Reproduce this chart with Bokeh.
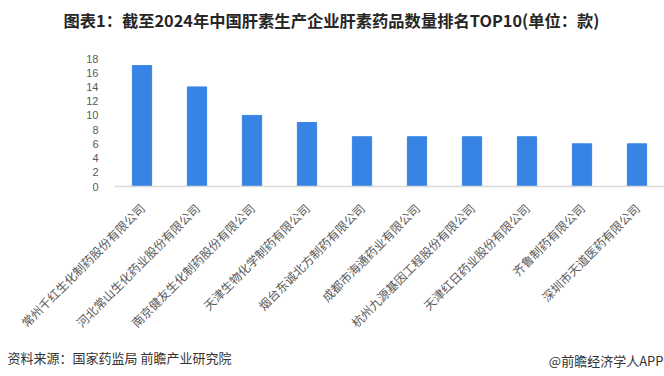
import math
from bokeh.plotting import figure
from bokeh.models import Range1d, FixedTicker, FactorRange, Title
from bokeh.embed import file_html
from bokeh.resources import INLINE

companies = [
    "常州千红生化制药股份有限公司",
    "河北常山生化药业股份有限公司",
    "南京健友生化制药股份有限公司",
    "天津生物化学制药有限公司",
    "烟台东诚北方制药有限公司",
    "成都市海通药业有限公司",
    "杭州九源基因工程股份有限公司",
    "天津红日药业股份有限公司",
    "齐鲁制药有限公司",
    "深圳市天道医药有限公司",
]
counts = [17, 14, 10, 9, 7, 7, 7, 7, 6, 6]
y_ticks = [0, 2, 4, 6, 8, 10, 12, 14, 16, 18]

title_text = "图表1：截至2024年中国肝素生产企业肝素药品数量排名TOP10(单位：款)"
source_text = "资料来源：国家药监局 前瞻产业研究院"
brand_text = "@前瞻经济学人APP"

FONT = "Noto Sans CJK SC"

p = figure(
    width=664, height=376,
    x_range=FactorRange(*companies, range_padding=0),
    y_range=Range1d(0, 18),
    output_backend="svg", toolbar_location=None,
    min_border_left=114, min_border_right=0,
    min_border_top=58, min_border_bottom=190,
)
p.outline_line_color = None
p.background_fill_color = "white"
p.border_fill_color = "white"
p.xgrid.visible = False
p.ygrid.visible = False

p.vbar(x=companies, top=counts, width=0.35, color="#3784E5")

p.yaxis.ticker = FixedTicker(ticks=y_ticks)
p.yaxis.axis_line_color = None
p.yaxis.major_tick_line_color = None
p.yaxis.minor_tick_line_color = None
p.yaxis.major_label_text_font = "Liberation Sans"
p.yaxis.major_label_text_font_size = "11px"
p.yaxis.major_label_text_color = "#595959"
p.yaxis.major_label_standoff = 10

p.xaxis.axis_line_color = "#d9d9d9"
p.xaxis.axis_line_width = 1.5
p.xaxis.major_tick_line_color = None
p.xaxis.minor_tick_line_color = None
p.xaxis.major_label_orientation = math.pi / 4
p.xaxis.major_label_text_font = FONT
p.xaxis.major_label_text_font_size = "12px"
p.xaxis.major_label_text_color = "#595959"
p.xaxis.major_label_standoff = 13

# spacer between frame and the main title (closest to the frame)
p.add_layout(Title(text=" ", text_font_size="1px", standoff=24), "above")
p.add_layout(Title(text=title_text, align="left", offset=-51, standoff=0,
                   text_font=FONT, text_font_style="bold",
                   text_font_size="16.3px", text_color="#262626"), "above")

p.add_layout(Title(text=source_text, align="left", offset=-107, standoff=12,
                   text_font=FONT, text_font_style="normal",
                   text_font_size="13px", text_color="#333333"), "below")
p.add_layout(Title(text=brand_text, align="right", offset=1, standoff=-44,
                   vertical_align="top",
                   text_font=FONT, text_font_style="normal",
                   text_font_size="13px", text_color="#333333"), "below")

open("out.html", "w").write(file_html(p, INLINE))
